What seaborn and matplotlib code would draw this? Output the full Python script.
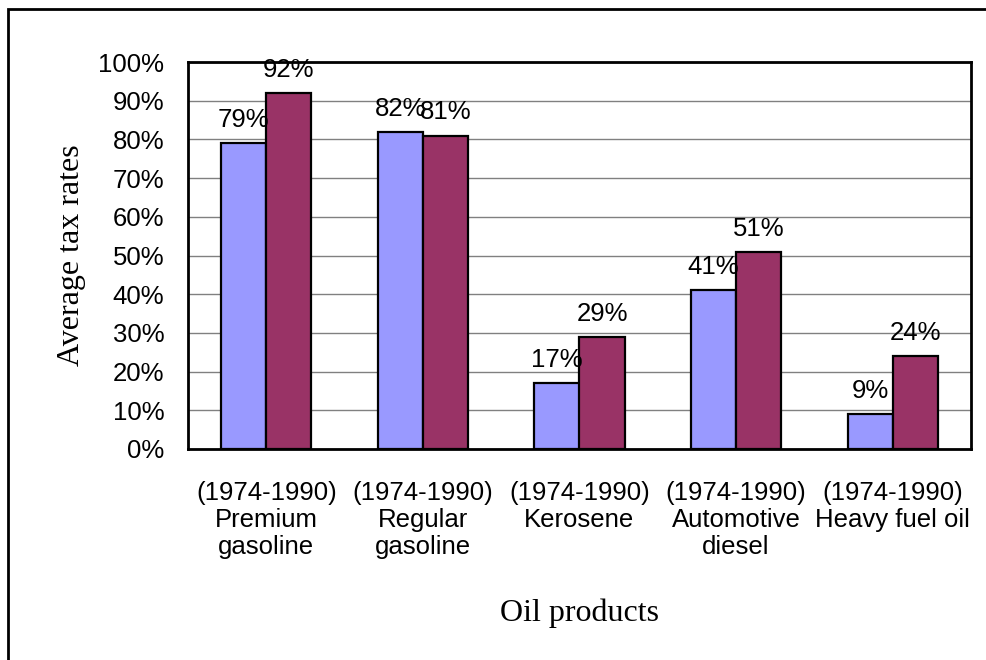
import numpy as np
import pandas as pd
import matplotlib
matplotlib.use("Agg")
import matplotlib.pyplot as plt
import seaborn as sns
from matplotlib.patches import Rectangle
from matplotlib.ticker import PercentFormatter

# data
products = ["(1974-1990)\nPremium\ngasoline", "(1974-1990)\nRegular\ngasoline",
            "(1974-1990)\nKerosene", "(1974-1990)\nAutomotive\ndiesel",
            "(1974-1990)\nHeavy fuel oil"]
rate_1974 = [79, 82, 17, 41, 9]
rate_1990 = [92, 81, 29, 51, 24]
periods = ["1974", "1990"]
yticks = list(range(0, 101, 10))

df = pd.DataFrame({
    "product": products * 2,
    "period": [periods[0]] * 5 + [periods[1]] * 5,
    "rate": rate_1974 + rate_1990,
})

sns.set_style("white")
plt.rcParams["font.family"] = ["Liberation Sans", "DejaVu Sans"]
plt.rcParams["text.color"] = "black"
plt.rcParams["xtick.labelcolor"] = "black"
plt.rcParams["ytick.labelcolor"] = "black"
plt.rcParams["axes.labelcolor"] = "black"

fig = plt.figure(figsize=(9.87, 6.6), dpi=100)
ax = fig.add_axes([188 / 987, 1 - 449 / 660, (971 - 188) / 987, (449 - 62) / 660])

sns.barplot(data=df, x="product", y="rate", hue="period", order=products,
            palette=["#9999FF", "#993366"], width=0.575, edgecolor="black",
            linewidth=1.6, saturation=1, legend=False, ax=ax, zorder=3)

for cont in ax.containers:
    ax.bar_label(cont, labels=[f"{v:.0f}%" for v in cont.datavalues],
                 padding=8, fontsize=18.5, color="black")

ax.set_ylim(0, 100)
ax.set_xlim(-0.5, 4.5)
ax.set_yticks(yticks)
ax.yaxis.set_major_formatter(PercentFormatter(decimals=0))
ax.grid(axis="y", color="#808080", linewidth=1, zorder=0)
ax.set_axisbelow(True)

ax.set_xticks(range(5))
ax.set_xticklabels(products, fontsize=18.5, linespacing=1.17)
ax.set_xticks(np.arange(-0.5, 5, 1), minor=True)
ax.tick_params(axis="x", which="major", length=0, pad=23)
ax.tick_params(axis="x", which="minor", length=7, width=1, color="#444444")
ax.tick_params(axis="y", length=8, width=1, color="#444444", labelsize=18.5, pad=9)

for s in ax.spines.values():
    s.set_visible(True)
    s.set_color("black")
    s.set_linewidth(2)

ax.set_xlabel("Oil products", fontsize=23, family="Liberation Serif", labelpad=28)
ax.set_ylabel("Average tax rates", fontsize=23, family="Liberation Serif", labelpad=9)

# outer chart border
fig.patches.append(Rectangle((8.5 / 987, -0.1), 1.2, 1.1 - 9 / 660,
                             transform=fig.transFigure, fill=False,
                             edgecolor="black", linewidth=2))

fig.savefig("out.png", dpi=100)
